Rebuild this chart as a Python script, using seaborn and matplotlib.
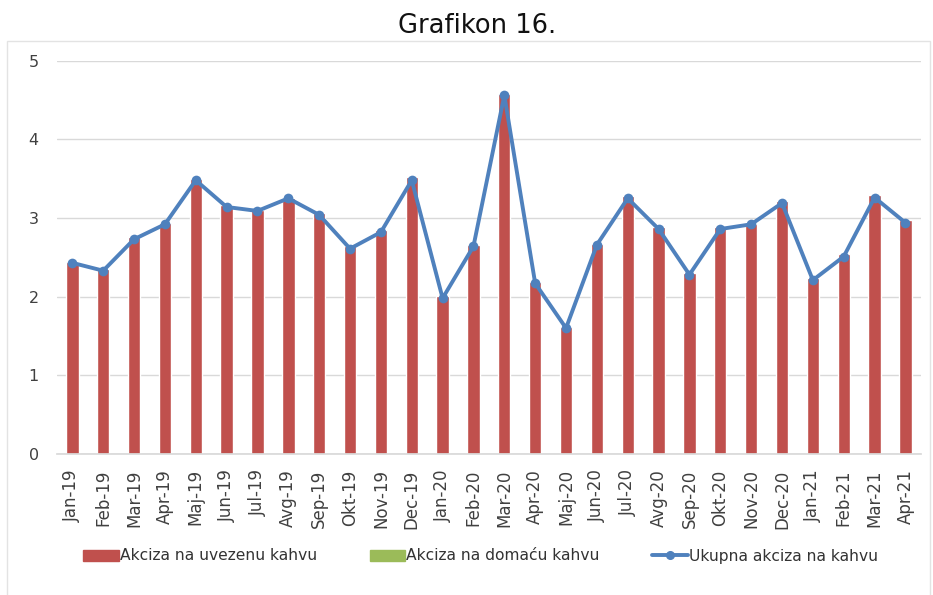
import numpy as np
import pandas as pd
import matplotlib.pyplot as plt
import seaborn as sns
from matplotlib.patches import Patch, Rectangle
from matplotlib.lines import Line2D

months = ["Jan-19", "Feb-19", "Mar-19", "Apr-19", "Maj-19", "Jun-19", "Jul-19",
          "Avg-19", "Sep-19", "Okt-19", "Nov-19", "Dec-19", "Jan-20", "Feb-20",
          "Mar-20", "Apr-20", "Maj-20", "Jun-20", "Jul-20", "Avg-20", "Sep-20",
          "Okt-20", "Nov-20", "Dec-20", "Jan-21", "Feb-21", "Mar-21", "Apr-21"]

# excise on imported coffee (bars)
uvezena = [2.44, 2.35, 2.76, 2.94, 3.50, 3.17, 3.10, 3.26, 3.07, 2.65, 2.85, 3.52,
           2.01, 2.66, 4.58, 2.19, 1.62, 2.67, 3.28, 2.88, 2.30, 2.89, 2.93, 3.22,
           2.24, 2.54, 3.29, 2.97]
# excise on domestic coffee (practically zero)
domaca = [0.0] * len(months)
# total excise (line)
ukupna = [2.43, 2.33, 2.73, 2.92, 3.48, 3.14, 3.09, 3.25, 3.04, 2.61, 2.82, 3.48,
          1.98, 2.64, 4.56, 2.17, 1.60, 2.66, 3.25, 2.86, 2.28, 2.86, 2.92, 3.19,
          2.21, 2.51, 3.26, 2.94]

RED = "#C0504D"
GREEN = "#9BBB59"
BLUE = "#4F81BD"

df = pd.DataFrame({"mjesec": months, "uvezena": uvezena,
                   "domaca": domaca, "ukupna": ukupna})
df["pos"] = np.arange(len(df))

sns.set_theme(style="white")
plt.rcParams['font.family'] = ['DejaVu Sans']

fig = plt.figure(figsize=(9.33, 5.95), dpi=100)
ax = fig.add_axes([0.061, 0.237, 0.926, 0.661])

# light frame around the chart area
fig.patches.append(Rectangle((7 / 933, -0.01), 923 / 933, 1 - 41 / 595 + 0.01,
                             transform=fig.transFigure, fill=False,
                             edgecolor="#E3E3E3", linewidth=1.0))

sns.barplot(data=df, x="mjesec", y="uvezena", color=RED, width=0.40,
            saturation=1, ax=ax, zorder=2)
sns.lineplot(data=df, x="pos", y="ukupna", color=BLUE, linewidth=2.8,
             marker="o", markersize=7, markeredgewidth=0, ax=ax, zorder=3)

ax.set_xlim(-0.5, len(months) - 0.5)
ax.set_ylim(0, 5)
ax.set_yticks(range(6))
ax.yaxis.grid(True, color="#D9D9D9", linewidth=1.0, zorder=0)
ax.set_axisbelow(True)
for s in ["top", "right", "left"]:
    ax.spines[s].set_visible(False)
ax.spines["bottom"].set_color("#D9D9D9")
ax.set_xlabel("")
ax.set_ylabel("")
ax.set_xticks(range(len(months)))
ax.set_xticklabels(months, rotation=90, fontsize=12, color="#404040")
ax.tick_params(axis="y", labelsize=11.5, labelcolor="#404040", length=0, pad=13)
ax.tick_params(axis="x", length=0, pad=11)

fig.text(0.511, 0.957, "Grafikon 16.", ha="center", va="center",
         fontsize=18.5, color="#111111")

handles = [Patch(facecolor=RED, edgecolor=RED),
           Patch(facecolor=GREEN, edgecolor=GREEN),
           Line2D([0], [0], color=BLUE, linewidth=2.8, marker="o", markersize=5.5)]
labels = ["Akciza na uvezenu kahvu", "Akciza na domaću kahvu", "Ukupna akciza na kahvu"]
fig.legend(handles, labels, loc="center left", bbox_to_anchor=(83 / 933, 1 - 556 / 595),
           ncol=3, frameon=False, fontsize=11.2, handlelength=2.3,
           handletextpad=0.05, columnspacing=3.4, borderpad=0, borderaxespad=0,
           labelcolor="#333333")

fig.savefig("out.png", dpi=100)
